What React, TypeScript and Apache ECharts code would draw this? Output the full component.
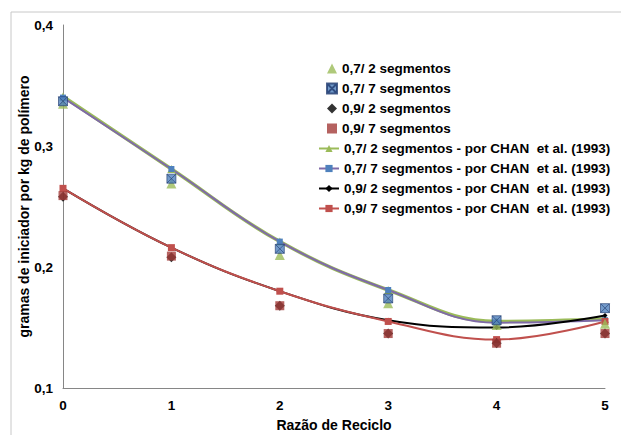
import React, { useEffect, useRef } from "react";
import * as echarts from "echarts";

const xValues = [0, 1, 2, 3, 4, 5];
const exp07_2 = [0.335, 0.269, 0.21, 0.17, 0.152, 0.153];
const exp07_7 = [0.337, 0.273, 0.215, 0.174, 0.156, 0.166];
const exp09_2 = [0.258, 0.208, 0.168, 0.145, 0.137, 0.145];
const exp09_7 = [0.259, 0.209, 0.168, 0.145, 0.137, 0.145];
const chan07_2 = [0.341, 0.281, 0.221, 0.181, 0.155, 0.157];
const chan07_7 = [0.34, 0.281, 0.221, 0.181, 0.154, 0.156];
const chan09_2 = [0.265, 0.216, 0.18, 0.156, 0.15, 0.16];
const chan09_7 = [0.265, 0.216, 0.18, 0.155, 0.14, 0.155];

const names = [
  "0,7/ 2 segmentos",
  "0,7/ 7 segmentos",
  "0,9/ 2 segmentos",
  "0,9/ 7 segmentos",
  "0,7/ 2 segmentos - por CHAN  et al. (1993)",
  "0,7/ 7 segmentos - por CHAN  et al. (1993)",
  "0,9/ 2 segmentos - por CHAN  et al. (1993)",
  "0,9/ 7 segmentos - por CHAN  et al. (1993)",
];

const pair = (ys: number[]) => xValues.map((x, i) => [x, ys[i]]);
const FONT = "Liberation Sans, Arial, sans-serif";
const XSYM = "path://M0,0L10,0L10,10L0,10Z M0,0L10,10 M10,0L0,10";
const legendText = { fontFamily: FONT, fontWeight: "bold", fontSize: 13.5, color: "#000", lineHeight: 15 };

export default function App() {
  const ref = useRef<HTMLDivElement>(null);
  useEffect(() => {
    document.body.style.margin = "0";
    const chart = echarts.init(ref.current!, undefined, { renderer: "svg" });
    const lineSeries = (name: string, data: number[], color: string, lineColor: string, symbol: string, size: number, width: number) => ({
      name,
      type: "line",
      data: pair(data),
      smooth: 0.4,
      symbol,
      symbolSize: size,
      showSymbol: true,
      lineStyle: { color: lineColor, width },
      itemStyle: { color, borderWidth: 0 },
      z: 2,
    });
    chart.setOption({
      animation: false,
      backgroundColor: "#fff",
      textStyle: { fontFamily: FONT },
      graphic: [
        {
          type: "rect",
          shape: { x: 11, y: 12, width: 700, height: 500 },
          style: { fill: "none", stroke: "#C8C8C8", lineWidth: 1 },
          silent: true,
        },
      ],
      grid: { left: 63, top: 25, right: 16, bottom: 47, containLabel: false, outerBoundsMode: "none" },
      legend: [
        {
          orient: "vertical",
          left: 321,
          top: 56,
          itemWidth: 10,
          itemHeight: 10,
          itemGap: 5,
          textStyle: legendText,
          data: names.slice(0, 4),
        },
        {
          orient: "vertical",
          left: 313,
          top: 136,
          itemWidth: 20,
          itemHeight: 9,
          itemGap: 5,
          textStyle: legendText,
          data: names.slice(4),
        },
      ],
      xAxis: {
        type: "value",
        min: 0,
        max: 5,
        interval: 1,
        name: "Razão de Reciclo",
        nameLocation: "middle",
        nameGap: 30,
        nameMoveOverlap: false,
        nameTextStyle: { fontFamily: FONT, fontWeight: "bold", fontSize: 14, color: "#000" },
        axisLine: { onZero: false, lineStyle: { color: "#868686", width: 1 } },
        axisTick: { show: false },
        splitLine: { show: false },
        axisLabel: { fontFamily: FONT, fontWeight: "bold", fontSize: 13.5, color: "#000", margin: 10 },
      },
      yAxis: {
        type: "value",
        min: 0.1,
        max: 0.4,
        interval: 0.1,
        name: "gramas de iniciador por kg de polímero",
        nameLocation: "middle",
        nameGap: 32,
        nameMoveOverlap: false,
        nameTextStyle: { fontFamily: FONT, fontWeight: "bold", fontSize: 14, color: "#000" },
        axisLine: { show: true, onZero: false, lineStyle: { color: "#868686", width: 1 } },
        axisTick: { show: false },
        splitLine: { show: false },
        axisLabel: {
          fontFamily: FONT,
          fontWeight: "bold",
          fontSize: 13.5,
          color: "#000",
          margin: 10,
          formatter: (v: number) => v.toFixed(1).replace(".", ","),
        },
      },
      series: [
        {
          name: names[0],
          type: "scatter",
          data: pair(exp07_2),
          symbol: "triangle",
          symbolSize: 10,
          itemStyle: { color: "#9BBB59" },
          z: 3,
        },
        {
          name: names[1],
          type: "scatter",
          data: pair(exp07_7),
          symbol: XSYM,
          symbolSize: 9,
          itemStyle: { color: "#4F81BD", borderColor: "#1F3A6E", borderWidth: 0.8 },
          z: 3,
        },
        {
          name: names[2],
          type: "scatter",
          data: pair(exp09_2),
          symbol: "diamond",
          symbolSize: 10,
          itemStyle: { color: "#000" },
          z: 3,
        },
        {
          name: names[3],
          type: "scatter",
          data: pair(exp09_7),
          symbol: "rect",
          symbolSize: 9,
          itemStyle: { color: "#A33B38" },
          z: 3,
        },
        lineSeries(names[4], chan07_2, "#9BBB59", "#9BBB59", "triangle", 8, 3.5),
        lineSeries(names[5], chan07_7, "#4F81BD", "#7F6AA8", "rect", 6, 2),
        lineSeries(names[6], chan09_2, "#000", "#000", "diamond", 5, 2),
        lineSeries(names[7], chan09_7, "#C0504D", "#C0504D", "rect", 7, 2),
      ],
    });
    return () => chart.dispose();
  }, []);
  return <div ref={ref} style={{ width: 621, height: 435 }} />;
}
